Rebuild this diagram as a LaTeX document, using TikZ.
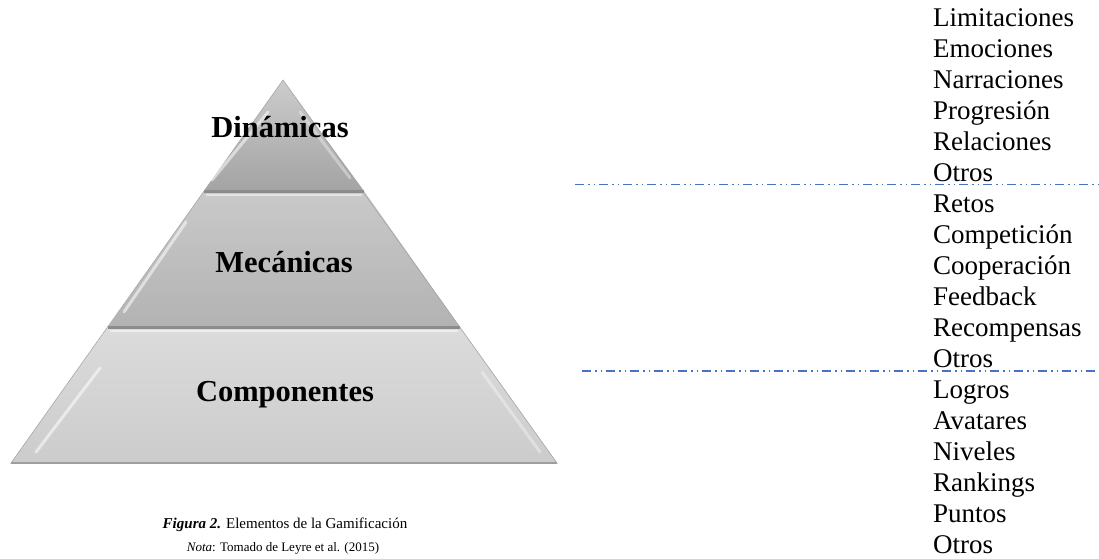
\documentclass[tikz,border=0pt]{standalone}
\usepackage{fontspec}
\setmainfont{Liberation Serif}
\usetikzlibrary{calc}
\definecolor{dashblue}{HTML}{4472C4}
\tikzset{
  band/.style={draw=gray!70, line width=0.6pt},
  sepline/.style={draw=black!45, line width=3pt},
  bevel/.style={draw=white, opacity=0.55, line width=3pt, line cap=round},
  layertext/.style={font=\fontsize{30.5}{34}\selectfont\bfseries, text=black},
  item/.style={anchor=base west, inner sep=0pt, font=\fontsize{27}{31}\selectfont},
  sepdash/.style={draw=dashblue, line width=1.1pt, dash pattern=on 9pt off 4pt on 1.5pt off 4pt on 1.5pt off 4pt},
  captext/.style={inner sep=0pt, anchor=base}
}
\begin{document}
\begin{tikzpicture}[x=1pt,y=-1pt]
\useasboundingbox (0,0) rectangle (1099,558);
% pyramid geometry
\coordinate (apex) at (283,80);
\coordinate (t1l) at (204,191); \coordinate (t1r) at (364,191);
\coordinate (t2l) at (108,327); \coordinate (t2r) at (460,327);
\coordinate (bl) at (11,463); \coordinate (br) at (557,463);
% bands
\shade[top color=black!20, bottom color=black!36] (apex) -- (t1r) -- (t1l) -- cycle;
\shade[top color=black!21, bottom color=black!30] (t1l) -- (t1r) -- (t2r) -- (t2l) -- cycle;
\shade[top color=black!14, bottom color=black!20] (t2l) -- (t2r) -- (br) -- (bl) -- cycle;
\draw[band] (apex) -- (br) -- (bl) -- cycle;
% separators
\draw[sepline] (t1l) -- (t1r);
\draw[sepline] (t2l) -- (t2r);
\draw[draw=black!38, line width=2pt] (bl) -- (br);
\draw[draw=white, opacity=0.5, line width=1.5pt] ($(t1l)+(2,4)$) -- ($(t1r)+(-2,4)$);
\draw[draw=white, opacity=0.5, line width=1.5pt] ($(t2l)+(2,4)$) -- ($(t2r)+(-2,4)$);
% bevel highlights
\draw[bevel] (268,112) -- (212,180);
\draw[bevel] (186,222) -- (124,312);
\draw[bevel] (100,368) -- (36,452);
\draw[bevel, opacity=0.35] (300,112) -- (350,178);
\draw[bevel, opacity=0.35] (398,228) -- (452,312);
\draw[bevel, opacity=0.35] (482,372) -- (540,452);
% layer labels
\node[layertext] (dyn) at (280,127) {Dinámicas};
\node[layertext] (mec) at (284,262) {Mecánicas};
\node[layertext] (comp) at (285,395) {Componentes};
% right lists
\foreach \t [count=\i] in {Limitaciones,Emociones,Narraciones,Progresión,Relaciones,Otros,Retos,Competición,Cooperación,Feedback,Recompensas,Otros,Logros,Avatares,Niveles,Rankings,Puntos,Otros}
  \node[item] (l\i) at (933,{26+(\i-1)*31}) {\t};
% dashed separators
\coordinate (d1a) at (575,184.5); \coordinate (d1b) at (1099,184.5);
\coordinate (d2a) at (582,371); \coordinate (d2b) at (1095,371);
\draw[sepdash] (d1a) -- (d1b);
\draw[sepdash] (d2a) -- (d2b);
% caption
\node[captext, font=\fontsize{15}{18}\selectfont] (cap) at (285,528) {\textbf{\textit{Figura 2.}} Elementos de la Gamificación};
\node[captext, font=\fontsize{13}{15}\selectfont] (nota) at (283,551) {\textit{Nota}: Tomado de Leyre et al. (2015)};
\end{tikzpicture}
\end{document}
